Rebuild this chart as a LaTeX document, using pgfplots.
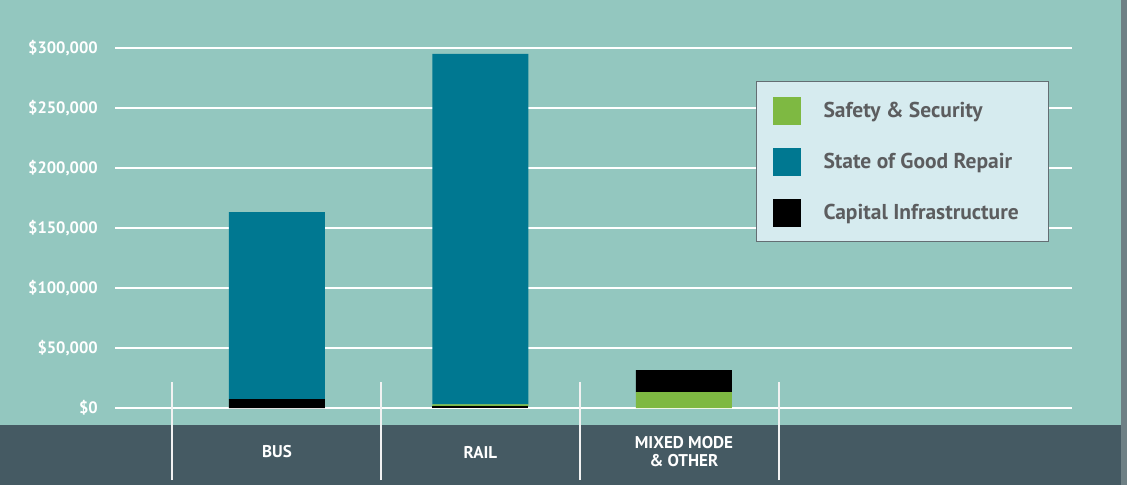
\documentclass[border=0pt]{standalone}
\usepackage{pgfplots}
\pgfplotsset{compat=1.18}
\usepackage{fontspec}
\setmainfont{PT Sans}
\definecolor{bgc}{RGB}{147,199,191}
\definecolor{band}{RGB}{69,90,99}
\definecolor{tealc}{RGB}{0,120,145}
\definecolor{greenc}{RGB}{126,185,66}
\definecolor{legbg}{RGB}{214,235,239}
\definecolor{legbd}{RGB}{100,110,115}
\definecolor{legtx}{RGB}{92,93,95}
\definecolor{strip}{RGB}{110,128,133}
\newcommand{\yl}[1]{\textbf{\$#1}}
\begin{document}
\begin{tikzpicture}[x=1pt,y=1pt]
\fill[bgc] (0,0) rectangle (1127,485);
\fill[band] (0,0) rectangle (1121,60);
\fill[strip] (1121,0) rectangle (1127,485);
\begin{axis}[
  at={(115pt,77pt)}, anchor=south west,
  scale only axis, width=957pt, height=360pt,
  xmin=-0.796, xmax=3.907, ymin=0, ymax=300000,
  axis line style={draw=none},
  ybar stacked, bar width=0.4717,
  scaled y ticks=false,
  /pgf/number format/assume math mode=true,
  xtick={0,1,2}, xticklabels={BUS,RAIL,{MIXED MODE\\\& OTHER}},
  ytick={0,50000,100000,150000,200000,250000,300000},
  yticklabels={{\yl{0}},{\yl{50,000}},{\yl{100,000}},{\yl{150,000}},{\yl{200,000}},{\yl{250,000}},{\yl{300,000}}},
  major tick length=0pt,
  ymajorgrids, grid style={white, line width=1.3pt},
  yticklabel style={anchor=east, inner sep=0pt, xshift=-17pt, font=\fontsize{16.5}{18}\selectfont\bfseries, text=white},
  xticklabel style={anchor=center, inner sep=0pt, yshift=-44pt, align=center, font=\fontsize{17}{18}\selectfont\bfseries, text=white},
  clip=false,
  legend style={at={(0.6698,0.9083)}, anchor=north west, fill=legbg, draw=legbd, line width=1pt,
    inner xsep=16pt, inner ysep=15pt, row sep=23pt, column sep=0pt,
    nodes={inner sep=0pt}, font=\fontsize{21.5}{23}\selectfont\bfseries, text=legtx},
  legend cell align=left,
  legend image code/.code={\fill[#1] (0pt,-14pt) rectangle (28pt,14pt); \path (51pt,0pt);},
]
% Capital Infrastructure (rail part, below its green strip)
\addplot[fill=black, draw=none, forget plot] coordinates {(0,0) (1,1500) (2,0)};
% Safety & Security
\addplot[fill=greenc, draw=none, forget plot] coordinates {(0,0) (1,1500) (2,13300)};
% Capital Infrastructure (bus and mixed mode)
\addplot[fill=black, draw=none, forget plot] coordinates {(0,7500) (1,0) (2,18300)};
% State of Good Repair
\addplot[fill=tealc, draw=none, forget plot] coordinates {(0,155800) (1,292000) (2,0)};
\addlegendimage{fill=greenc, draw=none}
\addlegendentry{\makebox[209pt][l]{Safety \& Security}}
\addlegendimage{fill=tealc, draw=none}
\addlegendentry{\makebox[209pt][l]{State of Good Repair}}
\addlegendimage{fill=black, draw=none}
\addlegendentry{\makebox[209pt][l]{Capital Infrastructure}}
\end{axis}
\foreach \xx in {172,381,580,779} {\draw[white!90!gray, line width=1.3pt] (\xx,5) -- (\xx,103);}
\end{tikzpicture}
\end{document}
